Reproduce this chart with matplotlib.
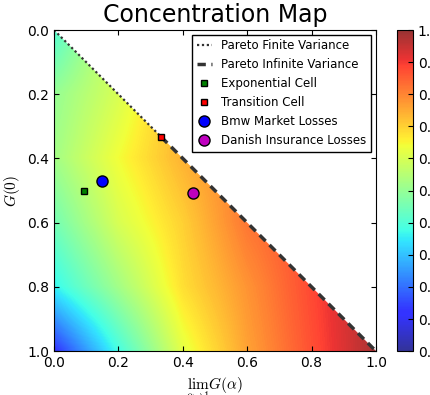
# concentration_map.py
# Concentration map of G(0) against the limit of G(alpha), with a few reference cells.

import matplotlib
matplotlib.use('Agg')
import matplotlib.pyplot as plt
from matplotlib.patches import Polygon
import numpy as np

plt.rcParams['mathtext.fontset'] = 'cm'
plt.rcParams['xtick.direction'] = 'in'
plt.rcParams['ytick.direction'] = 'in'
plt.rcParams['xtick.top'] = True
plt.rcParams['ytick.right'] = True

# background field on a coarse grid (rows = G(0), cols = lim G)
grid_x = [0.0, 0.2, 0.4, 0.6, 0.8, 1.0]
grid_y = [0.0, 0.2, 0.4, 0.6, 0.8, 1.0]
field = [
    [0.40, 0.60, 0.74, 0.82, 0.88, 0.98],
    [0.50, 0.60, 0.74, 0.82, 0.88, 0.98],
    [0.52, 0.64, 0.74, 0.82, 0.88, 0.98],
    [0.45, 0.60, 0.70, 0.82, 0.88, 0.98],
    [0.36, 0.52, 0.68, 0.78, 0.88, 0.98],
    [0.12, 0.38, 0.62, 0.76, 0.87, 0.98],
]

# Pareto boundary
finite_x = [0.0, 1 / 3]
finite_y = [0.0, 1 / 3]
infinite_x = [1 / 3, 1.0]
infinite_y = [1 / 3, 1.0]

# reference points
expo_cell = (0.092, 0.500)
transition_cell = (1 / 3, 1 / 3)
bmw_losses = (0.148, 0.469)
danish_losses = (0.432, 0.507)

fig = plt.figure(figsize=(4.3, 3.95), dpi=100)
ax = fig.add_axes([0.1256, 0.111, 0.7488, 0.813])
cax = fig.add_axes([0.923, 0.111, 0.037, 0.813])

# grid points sit at pixel centres, so pad the extent by half a step
step_x = grid_x[1] - grid_x[0]
step_y = grid_y[1] - grid_y[0]
img = ax.imshow(np.array(field), cmap='jet', vmin=0, vmax=1, alpha=0.8,
                interpolation='bilinear', origin='upper', aspect='auto',
                extent=(grid_x[0] - step_x / 2, grid_x[-1] + step_x / 2,
                        grid_y[-1] + step_y / 2, grid_y[0] - step_y / 2))
tri = Polygon([[0, 0], [0, 1], [1, 1]], closed=True, transform=ax.transData)
img.set_clip_path(tri)

ax.plot(finite_x, finite_y, ls=(0, (1, 1.2)), color='#333333', lw=1.6,
        label='Pareto Finite Variance')
ax.plot(infinite_x, infinite_y, ls=(0, (2.4, 1.6)), color='#333333', lw=2.5,
        label='Pareto Infinite Variance')
ax.plot(*expo_cell, 's', color='green', mec='black', ms=5, ls='none', label='Exponential Cell')
ax.plot(*transition_cell, 's', color='red', mec='black', ms=5, ls='none', label='Transition Cell')
ax.plot(*bmw_losses, 'o', color='blue', mec='black', ms=8, ls='none', label='Bmw Market Losses')
ax.plot(*danish_losses, 'o', color='m', mec='black', ms=8, ls='none', label='Danish Insurance Losses')

ax.set_xlim(0, 1)
ax.set_ylim(1, 0)
ax.set_xticks(np.arange(0, 1.01, 0.2))
ax.set_yticks(np.arange(0, 1.01, 0.2))
ax.tick_params(labelsize=10)
ax.set_title('Concentration Map', fontsize=17)
ax.set_xlabel(r'$\lim_{\alpha\to 1}G(\alpha)$', fontsize=11)
ax.set_ylabel(r'$G(0)$', fontsize=11)

leg = ax.legend(loc='upper right', fontsize=8.5, numpoints=1, fancybox=False,
                framealpha=1, borderaxespad=0.4, handlelength=1.3,
                labelspacing=0.5, handletextpad=0.8)
leg.get_frame().set_edgecolor('black')

sm = plt.cm.ScalarMappable(cmap='jet', norm=plt.Normalize(0, 1))
cb = fig.colorbar(sm, cax=cax, alpha=0.8)
cb.set_ticks(np.arange(0, 1.01, 0.1))
cb.ax.tick_params(labelsize=10)

fig.savefig('out.png', dpi=100)
